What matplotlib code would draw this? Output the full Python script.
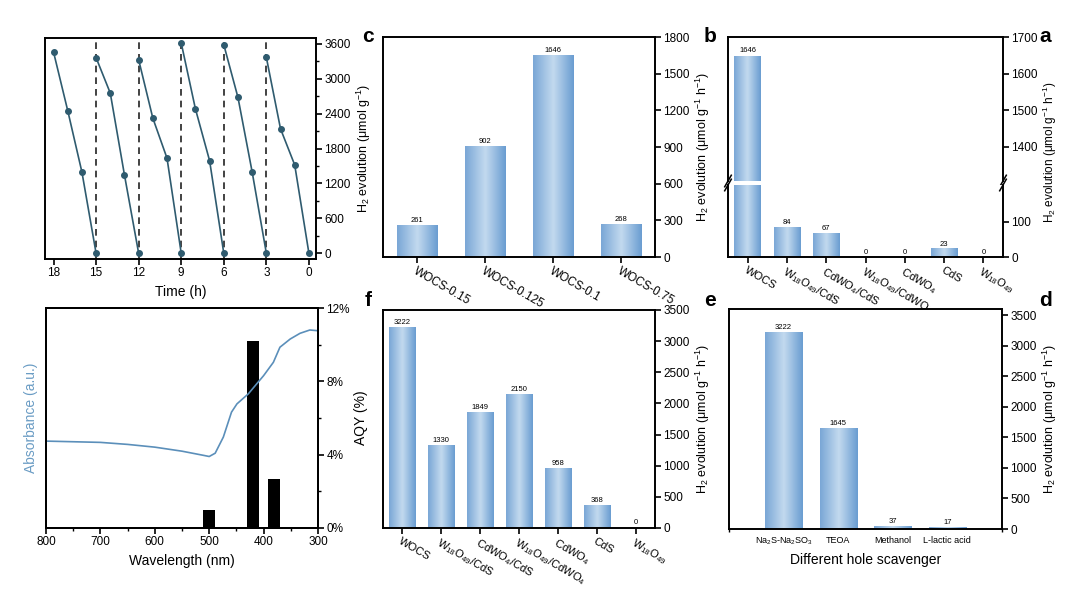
import numpy as np
import matplotlib
matplotlib.use('Agg')
import matplotlib.pyplot as plt
from matplotlib.colors import LinearSegmentedColormap
from matplotlib.ticker import MultipleLocator, FuncFormatter

plt.rcParams['font.family'] = ['Liberation Sans', 'DejaVu Sans']
plt.rcParams['mathtext.default'] = 'regular'
plt.rcParams['axes.linewidth'] = 1.4

# ---- data ----
cat_sample = [r'W$_{18}$O$_{49}$', 'CdS', r'CdWO$_4$', r'W$_{18}$O$_{49}$/CdWO$_4$',
              r'CdWO$_4$/CdS', r'W$_{18}$O$_{49}$/CdS', 'WOCS']
h2_a = [0, 23, 0, 0, 67, 84, 1646]          # umol g-1 h-1
h2_e = [0, 368, 958, 2150, 1849, 1330, 3222]  # umol g-1 h-1

cat_ratio = ['WOCS-0.75', 'WOCS-0.1', 'WOCS-0.125', 'WOCS-0.15']
h2_b = [268, 1646, 902, 261]

cat_scav = ['L-lactic acid', 'Methanol', 'TEOA', r'Na$_2$S-Na$_2$SO$_3$']
h2_d = [17, 37, 1645, 3222]

cyc_t = [[0, 1, 2, 3], [3, 4, 5, 6], [6, 7, 8, 9], [9, 10, 11, 12], [12, 13, 14, 15], [15, 16, 17, 18]]
cyc_h2 = [[0, 1517, 2138, 3367], [0, 1397, 2678, 3586], [0, 1591, 2483, 3615],
          [0, 1633, 2322, 3327], [0, 1345, 2753, 3362], [0, 1397, 2453, 3460]]

wl_aqy = [380, 420, 500]
aqy = [2.7, 10.2, 1.0]
wl_abs = [300, 315, 333, 351, 370, 382, 400, 419, 428, 449, 459, 474, 489, 500, 510,
          550, 600, 650, 700, 800]
absorb = [10.76, 10.80, 10.62, 10.31, 9.86, 9.04, 8.31, 7.64, 7.32, 6.77, 6.32, 4.96,
          4.08, 3.90, 3.96, 4.19, 4.41, 4.56, 4.67, 4.74]

# ---- helpers ----
cmap_bar = LinearSegmentedColormap.from_list('bar', ['#6a9dd1', '#c3daef', '#7aa7d6'])
grad = np.linspace(0, 1, 64).reshape(1, -1)


def grad_bars(ax, x, h, w):
    # call after ylim is set: gradient images are cut to the visible range
    lo, hi = ax.get_ylim()
    bars = ax.bar(x, h, w, color='none', edgecolor='none')
    for b in bars:
        top = min(b.get_height(), hi)
        if top <= lo:
            continue
        ax.imshow(grad, cmap=cmap_bar, aspect='auto', interpolation='bicubic',
                  extent=[b.get_x(), b.get_x() + b.get_width(), max(lo, 0), top],
                  zorder=2)
    return bars


def style(ax):
    ax.yaxis.tick_right()
    ax.yaxis.set_label_position('right')
    ax.tick_params(direction='out', length=4, width=1.2, labelsize=8.5, pad=2)
    ax.tick_params(which='minor', direction='out', length=2.5, width=1.0)


def labels_on(ax, x, h, fs=5.5, pad=15):
    for xi, hi in zip(x, h):
        ax.text(xi, hi + pad, str(hi), ha='center', va='bottom', fontsize=fs)


W, H = 1080, 604
fig = plt.figure(figsize=(10.8, 6.04), dpi=100)


def axes_px(x0, y0, x1, y1):
    return fig.add_axes([x0 / W, 1 - y1 / H, (x1 - x0) / W, (y1 - y0) / H])


ylab = r'H$_2$ evolution ($\mu$mol g$^{-1}$ h$^{-1}$)'

# ---- panel a (broken axis) ----
ax_up = axes_px(728, 37, 1003, 181)
ax_lo = axes_px(728, 185, 1003, 257)
xa = np.arange(len(cat_sample))
ax_up.set_ylim(1307, 1700)
ax_lo.set_ylim(0, 205)
for ax in (ax_up, ax_lo):
    grad_bars(ax, xa, h2_a, 0.67)
    ax.set_xlim(-0.5, 6.5)
    ax.invert_xaxis()
    style(ax)
ax_up.set_yticks([1400, 1500, 1600, 1700])
ax_up.spines['bottom'].set_visible(False)
ax_up.set_xticks([])
ax_lo.set_yticks([0, 100])
ax_lo.spines['top'].set_visible(False)
ax_lo.set_xticks(xa)
ax_lo.set_xticklabels(cat_sample, rotation=-30, ha='left', va='top',
                      rotation_mode='anchor', fontsize=8)
ax_up.text(6, 1646 + 8, '1646', ha='center', va='bottom', fontsize=5.5)
labels_on(ax_lo, xa[:6], h2_a[:6], pad=3)
for ax, yy in ((ax_up, 0), (ax_lo, 1)):
    dy = 0.04 if yy == 0 else 0.08
    for xx in (0, 1):
        ax.plot([xx - 0.012, xx + 0.012], [yy - dy, yy + dy],
                transform=ax.transAxes, color='k', lw=1.1, clip_on=False)
fig.text(1050 / W, 1 - 152 / H, ylab, rotation=90, ha='center', va='center', fontsize=8.5)

# ---- panel b ----
ax_b = axes_px(383, 37, 655, 257)
xb = np.arange(len(cat_ratio))
ax_b.set_ylim(0, 1800)
grad_bars(ax_b, xb, h2_b, 0.6)
ax_b.set_xlim(-0.5, 3.5)
ax_b.invert_xaxis()
ax_b.set_yticks(range(0, 1801, 300))
style(ax_b)
ax_b.set_xticks(xb)
ax_b.set_xticklabels(cat_ratio, rotation=-30, ha='left', va='top',
                     rotation_mode='anchor', fontsize=8.5)
labels_on(ax_b, xb, h2_b, pad=12)
ax_b.set_ylabel(ylab, fontsize=9, labelpad=3)

# ---- panel c ----
ax_c = axes_px(45, 38, 316, 259)
for t, v in zip(cyc_t, cyc_h2):
    ax_c.plot(t, v, '-o', color='#2f5b6f', lw=1.2, ms=4)
for xv in (3, 6, 9, 12, 15):
    ax_c.axvline(xv, ls='--', color='#222222', lw=1.2, dashes=(4, 3), zorder=0)
ax_c.set_xlim(-0.5, 18.6)
ax_c.invert_xaxis()
ax_c.set_ylim(-100, 3700)
ax_c.set_xticks(range(0, 19, 3))
ax_c.set_yticks(range(0, 3601, 600))
ax_c.yaxis.set_minor_locator(MultipleLocator(300))
style(ax_c)
ax_c.set_xlabel('Time (h)', fontsize=10)
ax_c.set_ylabel(r'H$_2$ evolution ($\mu$mol g$^{-1}$)', fontsize=9, labelpad=3)

# ---- panel d ----
ax_d = axes_px(729, 309, 1002, 529)
xd = np.arange(1, len(cat_scav) + 1)
ax_d.set_ylim(0, 3600)
grad_bars(ax_d, xd, h2_d, 0.68)
ax_d.set_xlim(0, 5)
ax_d.invert_xaxis()
ax_d.set_yticks(range(0, 3501, 500))
style(ax_d)
ax_d.set_xticks(xd)
ax_d.set_xticklabels(cat_scav, fontsize=6.5)
ax_d.tick_params(axis='x', which='major', length=0, pad=5)
ax_d.set_xticks([0, 5], minor=True)
labels_on(ax_d, xd, h2_d, pad=25)
ax_d.set_xlabel('Different hole scavenger', fontsize=10, labelpad=4)
ax_d.set_ylabel(ylab, fontsize=9, labelpad=3)

# ---- panel e ----
ax_e = axes_px(383, 310, 655, 528)
ax_e.set_ylim(0, 3500)
grad_bars(ax_e, xa, h2_e, 0.68)
ax_e.set_xlim(-0.5, 6.5)
ax_e.invert_xaxis()
ax_e.set_yticks(range(0, 3501, 500))
style(ax_e)
ax_e.set_xticks(xa)
ax_e.set_xticklabels(cat_sample, rotation=-30, ha='left', va='top',
                     rotation_mode='anchor', fontsize=8)
labels_on(ax_e, xa, h2_e, pad=25)
ax_e.set_ylabel(ylab, fontsize=9, labelpad=3)

# ---- panel f ----
ax_f = axes_px(46, 308, 318, 528)
ax_f2 = ax_f.twinx()
ax_f.bar(wl_aqy, aqy, 22, color='black', zorder=3)
ax_f.set_xlim(300, 800)
ax_f.invert_xaxis()
ax_f.set_ylim(0, 12)
ax_f.set_xticks(range(300, 801, 100))
ax_f.xaxis.set_minor_locator(MultipleLocator(50))
ax_f.set_yticks([0, 4, 8, 12])
ax_f.yaxis.set_minor_locator(MultipleLocator(2))
ax_f.yaxis.set_major_formatter(FuncFormatter(lambda v, p: f'{v:.0f}%'))
style(ax_f)
ax_f.set_xlabel('Wavelength (nm)', fontsize=10)
ax_f.set_ylabel('AQY (%)', fontsize=10, labelpad=3)
ax_f2.plot(wl_abs, absorb, color='#5b8fba', lw=1.2)
ax_f2.set_ylim(0, 12)
ax_f2.set_yticks([])
ax_f2.yaxis.set_label_position('left')
ax_f2.set_ylabel('Absorbance (a.u.)', color='#6a9cc4', fontsize=10, labelpad=6)

# ---- panel letters ----
for lt, px, py in (('a', 1045, 37), ('b', 710, 37), ('c', 368, 37),
                   ('d', 1045, 300), ('e', 710, 300), ('f', 368, 300)):
    fig.text(px / W, 1 - py / H, lt, fontsize=15, fontweight='bold', ha='center', va='center')

fig.savefig('out.png', dpi=100)
